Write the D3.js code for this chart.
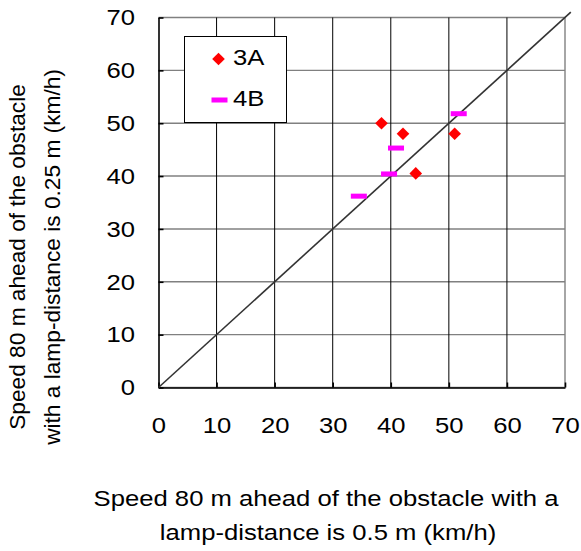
<!DOCTYPE html>
<html>
<head>
<meta charset="utf-8">
<script src="https://cdn.jsdelivr.net/npm/d3@7"></script>
<style>
  html, body { margin: 0; padding: 0; background: #fff; }
  text { font-family: Arial, "Liberation Sans", sans-serif; fill: #000; }
</style>
</head>
<body>
<svg id="chart" width="581" height="551"></svg>
<script>
// Speeds (km/h) 80 m ahead of the obstacle: lamp-distance 0.5 m (x) vs 0.25 m (y)
const series3A_x = [38.4, 42.1, 51.0, 44.3];
const series3A_y = [50.0, 48.0, 48.0, 40.5];
const series4B_x = [51.7, 40.9, 39.7, 34.5];
const series4B_y = [51.8, 45.3, 40.4, 36.2];
const seriesNames = ["3A", "4B"];
const tickValues = [0, 10, 20, 30, 40, 50, 60, 70];
const equalityLine = [0, 71];

// horizontal text is drawn slightly wide
const SX = 1.13;
const FS = 22.7;

const svg = d3.select("#chart");
const x = d3.scaleLinear().domain([0, 70]).range([158.5, 565]);
const y = d3.scaleLinear().domain([0, 70]).range([387.5, 17.5]);

// grid: gray horizontals, black verticals
svg.append("g").selectAll("line").data(tickValues).join("line")
  .attr("x1", x(0)).attr("x2", x(70))
  .attr("y1", d => y(d)).attr("y2", d => y(d))
  .attr("stroke", "#808080").attr("stroke-width", 1.4);
svg.append("g").selectAll("line").data(tickValues.slice(1)).join("line")
  .attr("x1", d => x(d)).attr("x2", d => x(d))
  .attr("y1", y(0)).attr("y2", y(70))
  .attr("stroke", d => d === 70 ? "#808080" : "#000").attr("stroke-width", d => d === 70 ? 1.4 : 1);

// axes with inward ticks
const xAxis = svg.append("g").attr("transform", `translate(0,${y(0)})`)
  .call(d3.axisBottom(x).tickValues(tickValues).tickSizeInner(-5).tickSizeOuter(0).tickPadding(29));
const yAxis = svg.append("g").attr("transform", `translate(${x(0)},0)`)
  .call(d3.axisLeft(y).tickValues(tickValues).tickSizeInner(-5).tickSizeOuter(0).tickPadding(23.5));
[xAxis, yAxis].forEach(g => {
  g.select(".domain").attr("stroke", "#000").attr("stroke-width", 1.6);
  g.selectAll(".tick line").attr("stroke", "#000").attr("stroke-width", 1.6);
  g.selectAll(".tick text").attr("font-size", FS).attr("font-family", "Arial, 'Liberation Sans', sans-serif");
});
xAxis.selectAll(".tick text").attr("transform", `scale(${SX},1)`);
yAxis.selectAll(".tick text").attr("x", -23.5 / SX).attr("transform", `scale(${SX},1)`);

// 1:1 reference line
svg.append("line")
  .attr("x1", x(equalityLine[0])).attr("y1", y(equalityLine[0]))
  .attr("x2", x(equalityLine[1])).attr("y2", y(equalityLine[1]))
  .attr("stroke", "#333").attr("stroke-width", 1.6);

// markers
const diamond = d3.symbol().type(d3.symbolSquare).size(80);
const pts3A = series3A_x.map((v, i) => [v, series3A_y[i]]);
const pts4B = series4B_x.map((v, i) => [v, series4B_y[i]]);
svg.append("g").selectAll("path").data(pts3A).join("path")
  .attr("d", diamond())
  .attr("transform", d => `translate(${x(d[0])},${y(d[1])}) rotate(45)`)
  .attr("fill", "#ff0000");
svg.append("g").selectAll("rect").data(pts4B).join("rect")
  .attr("x", d => x(d[0]) - 8).attr("y", d => y(d[1]) - 2.5)
  .attr("width", 16).attr("height", 5)
  .attr("fill", "#ff00ff");

// legend
const lg = svg.append("g");
lg.append("rect").attr("x", 184.5).attr("y", 36.5).attr("width", 102).attr("height", 86)
  .attr("fill", "#fff").attr("stroke", "#000").attr("stroke-width", 1);
lg.append("path").attr("d", diamond())
  .attr("transform", "translate(218.5,59) rotate(45)").attr("fill", "#ff0000");
lg.append("rect").attr("x", 211.5).attr("y", 97.5).attr("width", 16).attr("height", 5).attr("fill", "#ff00ff");
lg.selectAll("text").data(seriesNames).join("text")
  .attr("transform", (d, i) => `translate(233,${57 + i * 41}) scale(${SX},1)`)
  .attr("dy", "0.36em")
  .attr("font-size", FS).text(d => d);

// axis titles
const xt = svg.append("text").attr("text-anchor", "middle").attr("font-size", FS)
  .attr("transform", `translate(326,0) scale(${SX},1)`);
xt.append("tspan").attr("x", 0).attr("y", 506).text("Speed 80 m ahead of the obstacle with a");
xt.append("tspan").attr("x", 2 / SX).attr("y", 540.5).text("lamp-distance is 0.5 m (km/h)");

const yt = svg.append("text").attr("text-anchor", "middle").attr("font-size", FS)
  .attr("transform", "translate(0,257) rotate(-90)");
yt.append("tspan").attr("x", 0).attr("y", 25).text("Speed 80 m ahead of the obstacle");
yt.append("tspan").attr("x", 0).attr("y", 60).text("with a lamp-distance is 0.25 m (km/h)");
</script>
</body>
</html>
